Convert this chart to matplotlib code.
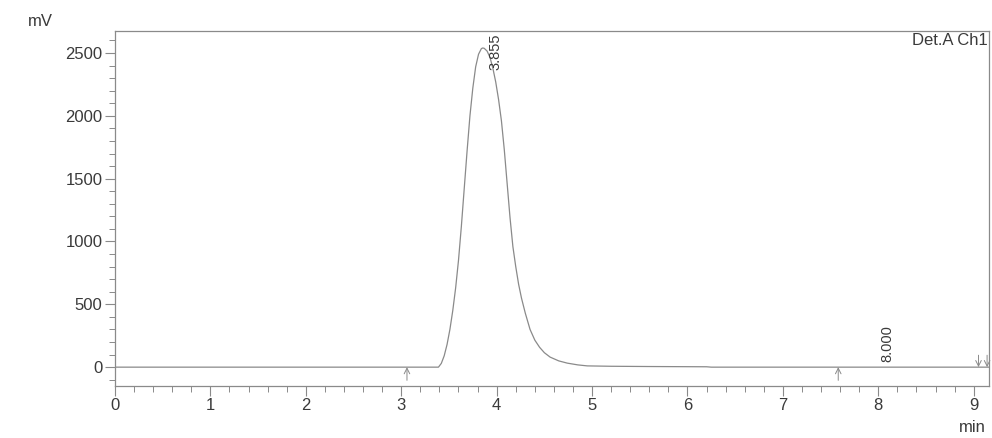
import numpy as np
import matplotlib
matplotlib.use("Agg")
import matplotlib.pyplot as plt
from matplotlib.ticker import MultipleLocator

# chromatogram trace, Det.A Ch1
t_min = [0.00, 3.30, 3.39, 3.42, 3.45, 3.48, 3.51, 3.54, 3.57, 3.60, 3.63,
         3.66, 3.69, 3.72, 3.75, 3.78, 3.81, 3.84, 3.855, 3.87, 3.90, 3.93,
         3.96, 3.99, 4.02, 4.05, 4.08, 4.11, 4.14, 4.17, 4.20, 4.23, 4.26,
         4.30, 4.35, 4.40, 4.45, 4.50, 4.56, 4.65, 4.74, 4.85, 4.95, 5.20,
         5.60, 6.20, 6.25, 9.16]
mv = [0, 0, 0, 30, 90, 180, 300, 450, 630, 850, 1120,
      1420, 1720, 2000, 2220, 2390, 2490, 2535, 2540, 2537, 2515, 2465,
      2380, 2270, 2130, 1960, 1730, 1460, 1190, 960, 800, 660, 550,
      430, 300, 215, 158, 115, 80, 50, 32, 18, 10, 7,
      5, 3, 0, 0]

# peak labels (retention times)
peak_lbl = ["3.855", "8.000"]
lbl_x = [3.99, 8.10]
lbl_y = [2510, 185]

# integration marks
up_marks = [3.06, 7.58]
down_marks = [9.05, 9.14]

grey = "#8a8a8a"
txt = "#3a3a3a"
plt.rcParams['font.family'] = ['Liberation Sans', 'DejaVu Sans']

fig = plt.figure(figsize=(9.92, 4.38), dpi=100)
ax = fig.add_axes([115/992, 1-386/438, (989-115)/992, (386-31)/438])

ax.plot(t_min, mv, color=grey, lw=0.9)

ax.set_xlim(0, 9.16)
ax.set_ylim(-150, 2675)
ax.xaxis.set_major_locator(MultipleLocator(1))
ax.xaxis.set_minor_locator(MultipleLocator(0.2))
ax.yaxis.set_major_locator(MultipleLocator(500))
ax.yaxis.set_minor_locator(MultipleLocator(100))
ax.tick_params(which='major', length=7, width=0.8, color=grey, labelsize=12,
               labelcolor=txt, pad=2)
ax.tick_params(which='minor', length=4, width=0.7, color=grey)
for s in ax.spines.values():
    s.set_color(grey)
    s.set_linewidth(0.9)

for x, y, s in zip(lbl_x, lbl_y, peak_lbl):
    ax.text(x, y, s, rotation=90, ha='center', va='center', fontsize=10.5, color=txt)

for x in up_marks:
    ax.annotate("", xy=(x, 0), xytext=(x, -105),
                arrowprops=dict(arrowstyle='->', color=grey, lw=0.7, shrinkA=0, shrinkB=0))
for x in down_marks:
    ax.annotate("", xy=(x, 0), xytext=(x, 95),
                arrowprops=dict(arrowstyle='->', color=grey, lw=0.7, shrinkA=0, shrinkB=0))

ax.text(0.9989, 0.995, "Det.A Ch1", transform=ax.transAxes, ha='right', va='top',
        fontsize=12, color=txt)
fig.text(40/992, 1-22/438, "mV", ha='center', va='center', fontsize=12, color=txt)
fig.text(972/992, 1-428/438, "min", ha='center', va='center', fontsize=12, color=txt)

fig.savefig("out.png", dpi=100, facecolor='white')
